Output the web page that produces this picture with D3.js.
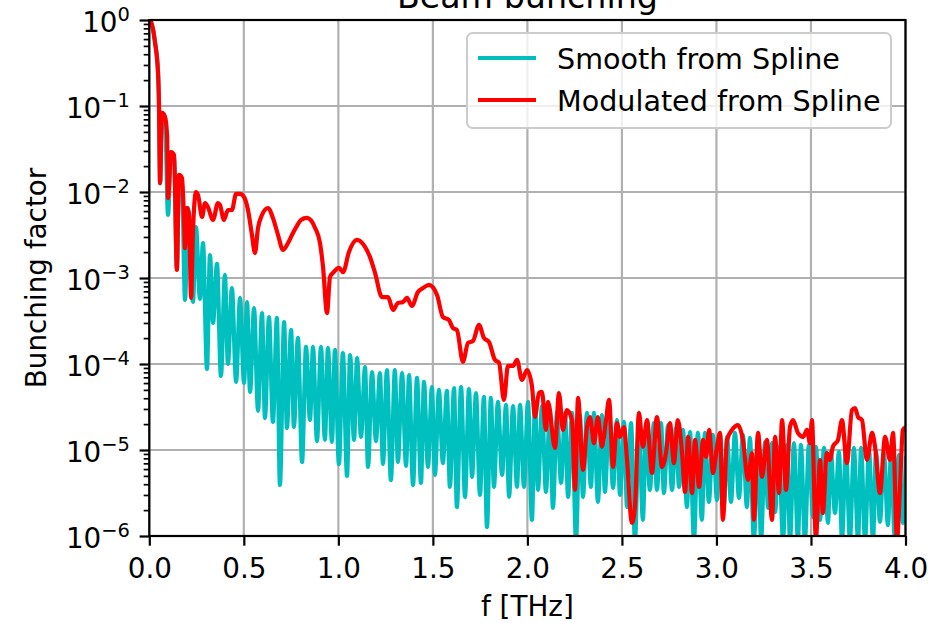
<!DOCTYPE html>
<html>
<head>
<meta charset="utf-8">
<script src="https://cdn.jsdelivr.net/npm/d3@7"></script>
<style>
  body { margin: 0; background: #fff; }
  svg { font-family: "DejaVu Sans", sans-serif; }
</style>
</head>
<body>
<script>
// [f (THz), bunching factor]
let smooth = [
  [0, 1.0], [0.009, 0.95], [0.030, 0.555], [0.046, 0.249], [0.051, 0.112], [0.057, 1.27e-2],
  [0.067, 8.3e-2], [0.083, 7.45e-2], [0.099, 5.4e-3], [0.115, 2.92e-2], [0.131, 2.49e-2],
  [0.146, 1.31e-3], [0.157, 1.46e-2], [0.173, 1.2e-2], [0.189, 5.55e-4], [0.205, 6.52e-3],
  [0.231, 5.26e-4], [0.247, 3.92e-3], [0.268, 5.7e-4], [0.284, 2.55e-3], [0.305, 8.75e-5],
  [0.321, 1.85e-3], [0.337, 3.0e-4], [0.358, 1.46e-3], [0.379, 7.25e-5], [0.400, 1.09e-3],
  [0.416, 1.0e-4], [0.437, 7.65e-4], [0.459, 6.18e-5], [0.480, 5.86e-4], [0.501, 6.0e-5],
  [0.517, 5.26e-4], [0.533, 4.73e-5], [0.554, 4.48e-4], [0.575, 2.85e-5], [0.596, 3.92e-4],
  [0.612, 2.36e-5], [0.633, 3.52e-4], [0.654, 2.12e-5], [0.675, 3.43e-4], [0.691, 3.92e-6],
  [0.713, 3.08e-4], [0.728, 1.8e-5], [0.750, 2.49e-4], [0.765, 1.85e-5], [0.786, 2.01e-4],
  [0.808, 7.25e-6], [0.829, 1.58e-4], [0.850, 2.23e-5], [0.866, 1.58e-4], [0.887, 1.27e-5],
  [0.908, 1.58e-4], [0.929, 1.31e-5], [0.945, 1.54e-4], [0.966, 1.24e-5], [0.982, 1.46e-4],
  [1.003, 6.88e-6], [1.024, 1.34e-4], [1.046, 4.99e-6], [1.062, 1.27e-4], [1.083, 1.31e-5],
  [1.099, 1.17e-4], [1.120, 1.42e-5], [1.141, 9.2e-5], [1.157, 6.35e-6], [1.178, 8.07e-5],
  [1.199, 1.27e-5], [1.220, 7.85e-5], [1.236, 6.88e-6], [1.257, 8.5e-5], [1.278, 4.48e-6],
  [1.299, 8.5e-5], [1.315, 7.25e-6], [1.337, 7.85e-5], [1.358, 6.52e-6], [1.374, 7.45e-5],
  [1.395, 3.92e-6], [1.416, 6.88e-5], [1.437, 4.14e-6], [1.453, 6.18e-5], [1.474, 6.35e-6],
  [1.495, 5.4e-5], [1.511, 5.12e-6], [1.532, 4.99e-5], [1.553, 7.05e-6], [1.574, 4.86e-5],
  [1.590, 3.72e-6], [1.612, 5.26e-5], [1.627, 2.17e-6], [1.649, 5.4e-5], [1.670, 2.85e-6],
  [1.691, 5.12e-5], [1.707, 4.86e-6], [1.728, 4.6e-5], [1.749, 3.0e-6], [1.770, 4.14e-5],
  [1.786, 1.27e-6], [1.807, 4.03e-5], [1.823, 3.72e-6], [1.844, 3.62e-5], [1.866, 5.12e-6],
  [1.887, 3.34e-5], [1.903, 2.85e-6], [1.924, 3.25e-5], [1.945, 3.72e-6], [1.961, 3.34e-5],
  [1.982, 3.72e-6], [2.003, 3.62e-5], [2.024, 1.54e-6], [2.040, 3.52e-5], [2.056, 3.43e-6],
  [2.077, 3.25e-5], [2.098, 3.25e-6], [2.119, 2.92e-5], [2.135, 2.12e-6], [2.157, 2.77e-5],
  [2.178, 4.14e-6], [2.199, 2.7e-5], [2.215, 2.85e-6], [2.236, 2.7e-5], [2.257, 9e-7],
  [2.278, 2.55e-5], [2.294, 2.85e-6], [2.315, 2.7e-5], [2.336, 3.72e-6], [2.352, 2.7e-5],
  [2.373, 2.49e-6], [2.394, 2.55e-5], [2.410, 3.25e-6], [2.432, 2.36e-5], [2.453, 3.62e-6],
  [2.474, 2.23e-5], [2.490, 3.0e-6], [2.511, 2.12e-5], [2.527, 2.17e-6], [2.548, 2.06e-5],
  [2.569, 9e-7], [2.590, 1.95e-5], [2.611, 1.54e-6], [2.627, 1.85e-5], [2.648, 3.43e-6],
  [2.669, 2.06e-5], [2.685, 3.43e-6], [2.707, 2.06e-5], [2.722, 3.16e-6], [2.744, 1.95e-5],
  [2.765, 3.43e-6], [2.786, 1.8e-5], [2.802, 3.72e-6], [2.823, 1.71e-5], [2.844, 2.17e-6],
  [2.860, 1.62e-5], [2.881, 9e-7], [2.902, 1.58e-5], [2.923, 1.54e-6], [2.939, 1.58e-5],
  [2.960, 2.49e-6], [2.981, 1.5e-5], [3.003, 2.62e-6], [3.019, 1.5e-5], [3.040, 2.3e-6],
  [3.056, 1.42e-5], [3.077, 2.49e-6], [3.098, 1.58e-5], [3.119, 2.77e-6], [3.140, 1.5e-5],
  [3.161, 2.17e-6], [3.177, 1.38e-5], [3.198, 9e-7], [3.220, 1.31e-5], [3.236, 9e-7],
  [3.257, 1.24e-5], [3.273, 2.12e-6], [3.294, 1.2e-5], [3.310, 1.9e-6], [3.331, 1.09e-5],
  [3.352, 9e-7], [3.373, 1.15e-5], [3.389, 9e-7], [3.410, 1.2e-5], [3.431, 9e-7],
  [3.447, 1.15e-5], [3.468, 9e-7], [3.489, 1.15e-5], [3.511, 1.66e-6], [3.526, 1.09e-5],
  [3.548, 1.54e-6], [3.569, 1.06e-5], [3.590, 1.42e-6], [3.605, 9.5e-6], [3.627, 1.85e-6],
  [3.648, 9.5e-6], [3.664, 9e-7], [3.685, 1.09e-5], [3.706, 9e-7], [3.727, 1.06e-5],
  [3.749, 9e-7], [3.765, 1.06e-5], [3.786, 9e-7], [3.807, 1.0e-5], [3.828, 9e-7],
  [3.844, 9.5e-6], [3.865, 1.46e-6], [3.886, 9.2e-6], [3.907, 1.34e-6], [3.923, 8.75e-6],
  [3.944, 9e-7], [3.965, 8.75e-6], [3.986, 1.42e-6], [4.002, 8.5e-6]
]

let modulated = [
  [0, 1.0], [0.009, 0.95], [0.030, 0.555], [0.046, 0.249], [0.051, 0.112], [0.057, 1.27e-2],
  [0.067, 8.3e-2], [0.083, 7.45e-2], [0.094, 4.6e-2], [0.099, 8.5e-3], [0.115, 2.92e-2],
  [0.131, 2.7e-2], [0.146, 1.24e-3], [0.157, 1.58e-2], [0.173, 1.46e-2], [0.184, 4.48e-3],
  [0.189, 2.23e-3], [0.200, 6.52e-3], [0.210, 5.4e-3], [0.221, 5.86e-4], [0.231, 3.43e-3],
  [0.247, 1.0e-2], [0.258, 9.2e-3], [0.279, 5.12e-3], [0.295, 7.45e-3], [0.310, 6.7e-3],
  [0.337, 4.73e-3], [0.363, 7.45e-3], [0.374, 7.05e-3], [0.395, 4.73e-3], [0.416, 6.18e-3],
  [0.437, 6.18e-3], [0.459, 9.5e-3], [0.480, 9.5e-3], [0.501, 8.75e-3], [0.522, 6.18e-3],
  [0.543, 3.16e-3], [0.559, 1.95e-3], [0.575, 3.82e-3], [0.596, 5.4e-3], [0.628, 6.52e-3],
  [0.654, 4.99e-3], [0.681, 3.16e-3], [0.707, 2.12e-3], [0.734, 2.55e-3], [0.760, 3.34e-3],
  [0.781, 4.03e-3], [0.802, 4.73e-3], [0.834, 4.99e-3], [0.877, 3.82e-3], [0.903, 2.55e-3],
  [0.919, 1.34e-3], [0.940, 3.92e-4], [0.956, 1.03e-3], [0.972, 1.15e-3], [1.004, 1.31e-3],
  [1.025, 1.17e-3], [1.056, 2.01e-3], [1.098, 2.77e-3], [1.141, 2.3e-3], [1.167, 1.76e-3],
  [1.194, 1.15e-3], [1.231, 6.0e-4], [1.263, 6.0e-4], [1.289, 4.25e-4], [1.315, 5.12e-4],
  [1.342, 5.26e-4], [1.363, 5.86e-4], [1.389, 4.73e-4], [1.421, 6.88e-4], [1.448, 7.65e-4],
  [1.479, 8.3e-4], [1.522, 6.35e-4], [1.553, 3.52e-4], [1.585, 3.25e-4], [1.606, 2.62e-4],
  [1.627, 2.49e-4], [1.659, 1.06e-4], [1.686, 1.76e-4], [1.712, 1.85e-4], [1.744, 2.85e-4],
  [1.770, 2.01e-4], [1.797, 1.8e-4], [1.828, 1.12e-4], [1.850, 1.03e-4], [1.876, 3.82e-5],
  [1.897, 9.5e-5], [1.924, 9.5e-5], [1.945, 1.12e-4], [1.971, 6.52e-5], [1.998, 8.5e-5],
  [2.024, 5.55e-5], [2.040, 2.42e-5], [2.061, 4.6e-5], [2.077, 4.73e-5], [2.098, 1.71e-5],
  [2.109, 3.62e-5], [2.146, 1.06e-5], [2.167, 4.6e-5], [2.188, 1.71e-5], [2.209, 2.92e-5],
  [2.236, 2.23e-5], [2.252, 3.43e-6], [2.268, 4.03e-5], [2.294, 5.86e-6], [2.315, 1.85e-5],
  [2.331, 2.42e-5], [2.352, 1.2e-5], [2.373, 2.42e-5], [2.394, 1.09e-5], [2.416, 2.23e-5],
  [2.432, 3.82e-5], [2.453, 6.35e-6], [2.474, 2.06e-5], [2.490, 1.42e-5], [2.511, 1.85e-5],
  [2.527, 7.65e-6], [2.553, 1.42e-6], [2.569, 2.17e-6], [2.590, 2.7e-5], [2.611, 1.09e-5],
  [2.633, 2.23e-5], [2.659, 5.4e-6], [2.685, 2.42e-5], [2.712, 6.35e-6], [2.733, 9.2e-6],
  [2.754, 2.06e-5], [2.775, 7.05e-6], [2.796, 2.23e-5], [2.818, 9.2e-6], [2.834, 3.25e-6],
  [2.850, 1.42e-5], [2.871, 3.16e-6], [2.887, 1.31e-5], [2.908, 3.72e-6], [2.929, 1.31e-5],
  [2.945, 8.3e-6], [2.961, 1.71e-5], [2.982, 5.4e-6], [3.003, 1.09e-5], [3.019, 1.58e-5],
  [3.034, 1.54e-6], [3.056, 1.31e-5], [3.082, 1.71e-5], [3.114, 1.95e-5], [3.140, 1.31e-5],
  [3.167, 4.48e-6], [3.188, 9.2e-6], [3.198, 1.54e-6], [3.220, 1.58e-5], [3.241, 4.86e-6],
  [3.267, 1.31e-5], [3.294, 1.54e-6], [3.310, 1.42e-5], [3.331, 3.16e-6], [3.347, 2.23e-5],
  [3.368, 3.43e-6], [3.389, 1.85e-5], [3.405, 2.23e-5], [3.431, 1.58e-5], [3.458, 1.42e-5],
  [3.479, 1.71e-5], [3.495, 1.2e-5], [3.505, 2.23e-5], [3.526, 9.5e-7], [3.548, 7.65e-6],
  [3.563, 1.85e-6], [3.584, 9.2e-6], [3.600, 7.65e-6], [3.616, 1.09e-5], [3.643, 1.31e-5],
  [3.664, 2.23e-5], [3.690, 7.05e-6], [3.717, 2.92e-5], [3.733, 3.08e-5], [3.749, 2.42e-5],
  [3.770, 2.23e-5], [3.796, 7.65e-6], [3.823, 1.58e-5], [3.839, 1.09e-5], [3.865, 3.16e-6],
  [3.892, 1.42e-5], [3.918, 7.65e-6], [3.934, 1.58e-5], [3.955, 9e-7], [3.971, 3.72e-6],
  [3.986, 1.71e-5], [4.002, 1.85e-5]
]

let xTicks = [0, 0.5, 1.0, 1.5, 2.0, 2.5, 3.0, 3.5, 4.0]
let yExponents = [0, -1, -2, -3, -4, -5, -6]
let seriesNames = ["Smooth from Spline", "Modulated from Spline"]
let seriesColors = ["#00bfbf", "#ff0000"]

let W = 951, H = 623
let plotL = 149.3, plotR = 905.5, plotT = 20, plotB = 536
let fs = 27.8

let x = d3.scaleLinear().domain([0, 4]).range([plotL, plotR])
let y = d3.scaleLog().domain([1e-6, 1]).range([plotB, plotT])

let svg = d3.select("body").append("svg")
  .attr("width", W).attr("height", H)

svg.append("defs").append("clipPath").attr("id", "plot")
  .append("rect")
  .attr("x", plotL).attr("y", plotT)
  .attr("width", plotR - plotL).attr("height", plotB - plotT)

// grid
let grid = svg.append("g")
  .attr("stroke", "#b0b0b0").attr("stroke-width", 2.2)
grid.selectAll("line.v").data(xTicks).enter().append("line")
  .attr("x1", d => x(d)).attr("x2", d => x(d))
  .attr("y1", plotT).attr("y2", plotB)
grid.selectAll("line.h").data(yExponents).enter().append("line")
  .attr("x1", plotL).attr("x2", plotR)
  .attr("y1", d => y(Math.pow(10, d))).attr("y2", d => y(Math.pow(10, d)))

// curves
let line = d3.line()
  .x(d => x(d[0]))
  .y(d => y(d[1]))
  .curve(d3.curveMonotoneX)

let curves = svg.append("g").attr("clip-path", "url(#plot)")
;[smooth, modulated].forEach((data, i) => {
  curves.append("path")
    .datum(data)
    .attr("d", line)
    .attr("fill", "none")
    .attr("stroke", seriesColors[i])
    .attr("stroke-width", 4.2)
    .attr("stroke-linejoin", "round")
})

// x axis
let xAxis = svg.append("g")
  .attr("transform", `translate(0,${plotB})`)
  .call(d3.axisBottom(x).tickValues(xTicks).tickSize(9.7).tickSizeOuter(0)
    .tickFormat(d3.format(".1f")))
xAxis.select(".domain").remove()
xAxis.selectAll(".tick line").attr("stroke", "#000").attr("stroke-width", 2.2)
xAxis.selectAll(".tick text")
  .attr("y", 42).attr("dy", null)
  .attr("font-size", fs).attr("font-family", "DejaVu Sans").attr("fill", "#000")

// y axis: minor ticks then decades
let minor = y.ticks().filter(v => Math.abs(Math.log10(v) - Math.round(Math.log10(v))) > 1e-6)
let yMinor = svg.append("g")
  .attr("transform", `translate(${plotL},0)`)
  .call(d3.axisLeft(y).tickValues(minor).tickSize(5.6).tickFormat(""))
yMinor.select(".domain").remove()
yMinor.selectAll(".tick line").attr("stroke", "#000").attr("stroke-width", 1.7)

let yAxis = svg.append("g")
  .attr("transform", `translate(${plotL},0)`)
  .call(d3.axisLeft(y).tickValues(yExponents.map(e => Math.pow(10, e))).tickSize(9.7)
    .tickPadding(9.7).tickFormat(""))
yAxis.select(".domain").remove()
yAxis.selectAll(".tick line").attr("stroke", "#000").attr("stroke-width", 2.2)
yAxis.selectAll(".tick text")
  .attr("x", -19.4).attr("y", 11).attr("dy", null)
  .attr("font-size", fs).attr("font-family", "DejaVu Sans").attr("fill", "#000")
  .each(function(d) {
    let t = d3.select(this)
    let e = Math.round(Math.log10(d))
    t.append("tspan").text("10")
    t.append("tspan").attr("dy", -11).attr("font-size", fs * 0.7)
      .text(e < 0 ? "\u2212" + (-e) : String(e))
  })

// spines
svg.append("rect")
  .attr("x", plotL).attr("y", plotT)
  .attr("width", plotR - plotL).attr("height", plotB - plotT)
  .attr("fill", "none").attr("stroke", "#000").attr("stroke-width", 2.2)

// labels
svg.append("text")
  .attr("x", (plotL + plotR) / 2).attr("y", 8)
  .attr("text-anchor", "middle").attr("font-size", 33.3)
  .text("Beam bunching")

svg.append("text")
  .attr("x", (plotL + plotR) / 2).attr("y", 616)
  .attr("text-anchor", "middle").attr("font-size", fs)
  .text("f [THz]")

svg.append("text")
  .attr("transform", `translate(46,${(plotT + plotB) / 2}) rotate(-90)`)
  .attr("text-anchor", "middle").attr("font-size", fs)
  .text("Bunching factor")

// legend
let legend = svg.append("g")
legend.append("rect")
  .attr("x", 467).attr("y", 33).attr("width", 424).attr("height", 95)
  .attr("rx", 5.6)
  .attr("fill", "#fff").attr("fill-opacity", 0.8)
  .attr("stroke", "#cccccc").attr("stroke-width", 2)

let rows = legend.selectAll("g.row").data(seriesNames).enter().append("g")
  .attr("transform", (d, i) => `translate(0,${58 + i * 42})`)
rows.append("line")
  .attr("x1", 478).attr("x2", 536)
  .attr("stroke", (d, i) => seriesColors[i]).attr("stroke-width", 4.2)
rows.append("text")
  .attr("x", 557).attr("y", 10.8)
  .attr("font-size", 28.6)
  .text(d => d)
</script>
</body>
</html>
